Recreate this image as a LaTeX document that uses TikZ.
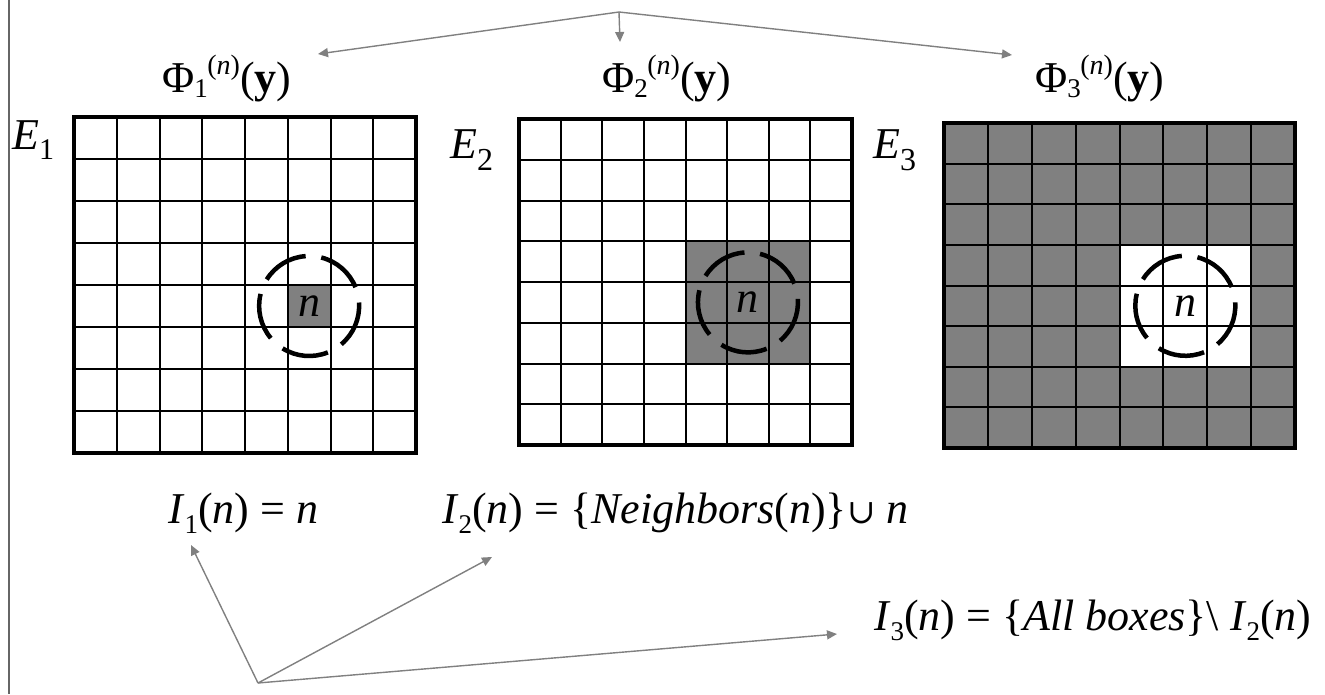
\documentclass[tikz,border=0pt]{standalone}
\usepackage{fix-cm}
\usepackage{fontspec}
\setmainfont{Liberation Serif}
\newfontfamily\symfam{DejaVu Serif}
\usetikzlibrary{arrows.meta}
\definecolor{cellgray}{RGB}{128,128,128}
\definecolor{arrowgray}{RGB}{128,128,128}
% index set lower (size, drop, text)
\newcommand{\lowered}[3]{\raisebox{-#2pt}{\fontsize{#1}{#1}\selectfont #3}}
\newcommand{\phisym}[1]{Φ\rlap{\lowered{27}{5}{#1}}\hspace{13pt}\raisebox{18pt}{\fontsize{28}{28}\selectfont(\textit{n})}(\textbf{y})}

\begin{document}
\begin{tikzpicture}[x=1pt, y=1pt, >={Triangle[length=10pt,width=9pt]},
    lbl/.style={anchor=base west, inner sep=0pt, font=\fontsize{44}{50}\selectfont},
    centre/.style={inner sep=0pt, font=\fontsize{44}{50}\selectfont},
    pointer/.style={->, draw=arrowgray, line width=1.4pt},
    cellline/.style={line width=2pt},
    frame/.style={line width=4.5pt},
    ring/.style={line width=4.5pt}]
\useasboundingbox (0,0) rectangle (1325,-694);
\draw[black!60, line width=1.5pt] (9,0) -- (9,-694);

% E1: single box
\begin{scope}[shift={(74,-117)}]
  \fill[cellgray] (5*42.75,-4*42) rectangle ++(42.75,-42);
  \foreach \k in {1,...,7}{
    \draw[cellline] (\k*42.75,0) -- (\k*42.75,-336);
    \draw[cellline] (0,-\k*42) -- (342,-\k*42);
  }
  \draw[frame] (0,0) rectangle (342,-336);
  \node[centre] (n1) at (5.5*42.75,-4.5*42) {\textit{n}};
\end{scope}

% E2: box and its neighbours
\begin{scope}[shift={(519,-119)}]
  \fill[cellgray] (4*41.625,-3*40.75) rectangle ++(3*41.625,-3*40.75);
  \foreach \k in {1,...,7}{
    \draw[cellline] (\k*41.625,0) -- (\k*41.625,-326);
    \draw[cellline] (0,-\k*40.75) -- (333,-\k*40.75);
  }
  \draw[frame] (0,0) rectangle (333,-326);
  \node[centre] (n2) at (5.5*41.625,-4.5*40.75) {\textit{n}};
\end{scope}

% E3: all the rest
\begin{scope}[shift={(944,-123)}]
  \fill[cellgray] (0,0) rectangle (351,-325);
  \fill[white] (4*43.875,-3*40.625) rectangle ++(3*43.875,-3*40.625);
  \foreach \k in {1,...,7}{
    \draw[cellline] (\k*43.875,0) -- (\k*43.875,-325);
    \draw[cellline] (0,-\k*40.625) -- (351,-\k*40.625);
  }
  \draw[frame] (0,0) rectangle (351,-325);
  \node[centre] (n3) at (5.5*43.875,-4.5*40.625) {\textit{n}};
\end{scope}

% dashed rings round n
\foreach \c in {n1,n2,n3}
  \foreach \a in {22,94,166,238,310}
    \draw[ring] ([shift={(\a:50)}]\c.center) arc[start angle=\a, delta angle=54, radius=50];

\node[lbl] (phi1) at (162,-92) {\phisym{1}};
\node[lbl] (phi2) at (602,-92) {\phisym{2}};
\node[lbl] (phi3) at (1035,-92) {\phisym{3}};
\node[lbl] (e1) at (12,-149) {\textit{E}\lowered{30}{10}{1}};
\node[lbl] (e2) at (450,-158) {\textit{E}\lowered{32}{12}{2}};
\node[lbl] (e3) at (873,-158) {\textit{E}\lowered{32}{12}{3}};
\node[lbl] (i1) at (168,-523) {\textit{I}\lowered{27}{10}{1}(\textit{n}) = \textit{n}};
\node[lbl] (i2) at (442,-523) {\textit{I}\lowered{27}{10}{2}(\textit{n}) = \{\textit{Neighbors}(\textit{n})\}{\symfam\fontsize{34}{34}\selectfont ∪} \textit{n}};
\node[lbl] (i3) at (874,-630) {\textit{I}\lowered{27}{10}{3}(\textit{n}) = \{\textit{All boxes}\}\textbackslash\ \textit{I}\lowered{27}{10}{2}(\textit{n})};

% pointers
\coordinate (topsrc) at (619,-12);
\coordinate (botsrc) at (258,-683);
\coordinate (phi1tip) at (318,-54);
\coordinate (phi2tip) at (620,-42);
\coordinate (phi3tip) at (1012,-55);
\coordinate (i1tip) at (191,-545);
\coordinate (i2tip) at (492,-557);
\coordinate (i3tip) at (837,-634);
\draw[pointer] (topsrc) -- (phi1tip);
\draw[pointer] (topsrc) -- (phi2tip);
\draw[pointer] (topsrc) -- (phi3tip);
\draw[pointer] (botsrc) -- (i1tip);
\draw[pointer] (botsrc) -- (i2tip);
\draw[pointer] (botsrc) -- (i3tip);
\end{tikzpicture}
\end{document}
